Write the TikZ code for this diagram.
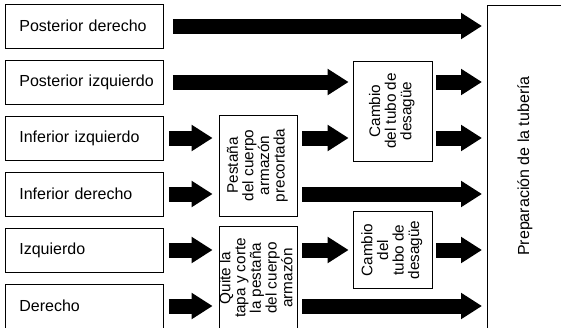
\documentclass[tikz,border=0pt]{standalone}
\usepackage{fontspec}
\setmainfont{Liberation Sans}
\usetikzlibrary{arrows.meta}

\begin{document}
\begin{tikzpicture}[x=1pt,y=-1pt]
\tikzstyle{every node}+=[inner sep=0pt,font=\fontsize{15.3}{15}\selectfont]
\tikzstyle{src}=[draw=black,line width=0.8pt,anchor=west,minimum width=158,minimum height=44,font=\fontsize{16}{16}\selectfont,text width=144,align=left,inner xsep=7,execute at begin node=\hspace*{7pt}]
\tikzstyle{stage}=[draw=black,line width=0.8pt,align=center]
\tikzstyle{blk}=[line width=15pt,-{Triangle[length=21pt,width=25pt]}]
\useasboundingbox (0,0) rectangle (561,327);
\node [src] (pd) at (5,26) {Posterior derecho};
\node [src] (pi) at (5,82) {Posterior izquierdo};
\node [src] (ii) at (5,138) {Inferior izquierdo};
\node [src] (id) at (5,194) {Inferior derecho};
\node [src] (iz) at (5,250) {Izquierdo};
\node [src] (de) at (5,306) {Derecho};
\node [stage,minimum width=78,minimum height=101] (pest) at (258,165.5) {\rotatebox{90}{\begin{tabular}{@{}c@{}}Pestaña\\del cuerpo\\armazón\\precortada\end{tabular}}};
\node [stage,minimum width=78,minimum height=104] (quite) at (258,278) {\rotatebox{90}{\begin{tabular}{@{}c@{}}Quite la\\tapa y corte\\la pestaña\\del cuerpo\\armazón\end{tabular}}};
\node [stage,minimum width=79,minimum height=100] (cam1) at (392.5,111) {\rotatebox{90}{\begin{tabular}{@{}c@{}}Cambio\\del tubo de\\desagüe\end{tabular}}};
\node [stage,minimum width=79,minimum height=77] (cam2) at (392.5,250) {\rotatebox{90}{\begin{tabular}{@{}c@{}}Cambio\\del\\tubo de\\desagüe\end{tabular}}};
\node [draw=black,line width=0.8pt,anchor=north west,minimum width=90,minimum height=340] (prep) at (487,4.5) {};
\node [rotate=90,font=\fontsize{16}{16}\selectfont] (preptxt) at (525,166) {Preparación de la tubería};
\draw [blk,shorten <=9pt,shorten >=5pt] (pd.east) -- (prep.west |- pd.east);
\draw [blk,shorten <=9pt,shorten >=4pt] (pi.east) -- (cam1.west |- pi.east);
\draw [blk,shorten <=4pt,shorten >=5pt] (cam1.east |- pi.east) -- (prep.west |- pi.east);
\draw [blk,shorten <=5pt,shorten >=6pt] (ii.east) -- (pest.west |- ii.east);
\draw [blk,shorten <=5pt,shorten >=4pt] (pest.east |- ii.east) -- (cam1.west |- ii.east);
\draw [blk,shorten <=4pt,shorten >=5pt] (cam1.east |- ii.east) -- (prep.west |- ii.east);
\draw [blk,shorten <=5pt,shorten >=6pt] (id.east) -- (pest.west |- id.east);
\draw [blk,shorten <=5pt,shorten >=5pt] (pest.east |- id.east) -- (prep.west |- id.east);
\draw [blk,shorten <=5pt,shorten >=6pt] (iz.east) -- (quite.west |- iz.east);
\draw [blk,shorten <=5pt,shorten >=4pt] (quite.east |- iz.east) -- (cam2.west);
\draw [blk,shorten <=4pt,shorten >=5pt] (cam2.east) -- (prep.west |- cam2.east);
\draw [blk,shorten <=5pt,shorten >=6pt] (de.east) -- (quite.west |- de.east);
\draw [blk,shorten <=5pt,shorten >=5pt] (quite.east |- de.east) -- (prep.west |- de.east);
\end{tikzpicture}
\end{document}
